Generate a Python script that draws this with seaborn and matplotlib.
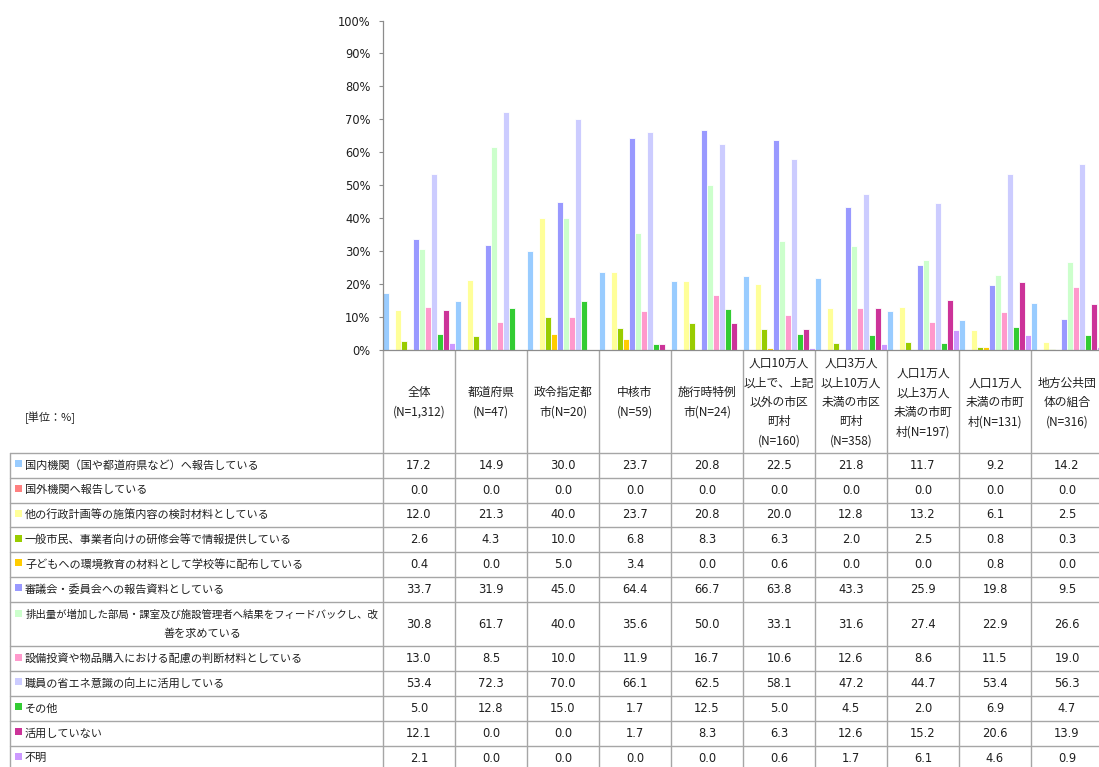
import numpy as np
import pandas as pd
import matplotlib
matplotlib.use("Agg")
import matplotlib.pyplot as plt
import seaborn as sns
from matplotlib.patches import Rectangle

# ---------------- data ----------------
groups = ["全体", "都道府県", "政令指定都市", "中核市", "施行時特例市",
          "人口10万人以上で、上記以外の市区町村", "人口3万人以上10万人未満の市区町村",
          "人口1万人以上3万人未満の市町村", "人口1万人未満の市町村", "地方公共団体の組合"]
group_headers = [
    ["全体", "(N=1,312)"],
    ["都道府県", "(N=47)"],
    ["政令指定都", "市(N=20)"],
    ["中核市", "(N=59)"],
    ["施行時特例", "市(N=24)"],
    ["人口10万人", "以上で、上記", "以外の市区", "町村", "(N=160)"],
    ["人口3万人", "以上10万人", "未満の市区", "町村", "(N=358)"],
    ["人口1万人", "以上3万人", "未満の市町", "村(N=197)"],
    ["人口1万人", "未満の市町", "村(N=131)"],
    ["地方公共団", "体の組合", "(N=316)"],
]

items = [
    "国内機関（国や都道府県など）へ報告している",
    "国外機関へ報告している",
    "他の行政計画等の施策内容の検討材料としている",
    "一般市民、事業者向けの研修会等で情報提供している",
    "子どもへの環境教育の材料として学校等に配布している",
    "審議会・委員会への報告資料としている",
    "排出量が増加した部局・課室及び施設管理者へ結果をフィードバックし、改善を求めている",
    "設備投資や物品購入における配慮の判断材料としている",
    "職員の省エネ意識の向上に活用している",
    "その他",
    "活用していない",
    "不明",
]
item_label_lines = [
    [items[0]], [items[1]], [items[2]], [items[3]], [items[4]], [items[5]],
    ["排出量が増加した部局・課室及び施設管理者へ結果をフィードバックし、改", "善を求めている"],
    [items[7]], [items[8]], [items[9]], [items[10]], [items[11]],
]

v_domestic = [17.2, 14.9, 30.0, 23.7, 20.8, 22.5, 21.8, 11.7, 9.2, 14.2]
v_overseas = [0.0, 0.0, 0.0, 0.0, 0.0, 0.0, 0.0, 0.0, 0.0, 0.0]
v_plan = [12.0, 21.3, 40.0, 23.7, 20.8, 20.0, 12.8, 13.2, 6.1, 2.5]
v_public = [2.6, 4.3, 10.0, 6.8, 8.3, 6.3, 2.0, 2.5, 0.8, 0.3]
v_school = [0.4, 0.0, 5.0, 3.4, 0.0, 0.6, 0.0, 0.0, 0.8, 0.0]
v_council = [33.7, 31.9, 45.0, 64.4, 66.7, 63.8, 43.3, 25.9, 19.8, 9.5]
v_feedback = [30.8, 61.7, 40.0, 35.6, 50.0, 33.1, 31.6, 27.4, 22.9, 26.6]
v_invest = [13.0, 8.5, 10.0, 11.9, 16.7, 10.6, 12.6, 8.6, 11.5, 19.0]
v_staff = [53.4, 72.3, 70.0, 66.1, 62.5, 58.1, 47.2, 44.7, 53.4, 56.3]
v_other = [5.0, 12.8, 15.0, 1.7, 12.5, 5.0, 4.5, 2.0, 6.9, 4.7]
v_notused = [12.1, 0.0, 0.0, 1.7, 8.3, 6.3, 12.6, 15.2, 20.6, 13.9]
v_unknown = [2.1, 0.0, 0.0, 0.0, 0.0, 0.6, 1.7, 6.1, 4.6, 0.9]

series = [v_domestic, v_overseas, v_plan, v_public, v_school, v_council,
          v_feedback, v_invest, v_staff, v_other, v_notused, v_unknown]

colors = ["#99CCFF", "#FF8080", "#FFFF99", "#99CC00", "#FFCC00", "#9999FF",
          "#CCFFCC", "#FF99CC", "#CCCCFF", "#33CC33", "#CC3399", "#CC99FF"]

yticks = list(range(0, 101, 10))
ytick_labels = [f"{t}%" for t in yticks]

# ---------------- style ----------------
sns.set_style("white")
plt.rcParams["font.family"] = ["Noto Sans CJK JP", "DejaVu Sans"]

TEXT = "#1E1E1E"
LINE = "#A6A6A6"
SPINE = "#8C8C8C"

W, H = 1099, 767
fig = plt.figure(figsize=(W / 100, H / 100), dpi=100)

# plot area in pixel coords
px_left, px_right, px_top, px_bottom = 383, 1103, 20.5, 350
ax = fig.add_axes([px_left / W, 1 - px_bottom / H, (px_right - px_left) / W,
                   (px_bottom - px_top) / H])

rows = []
for it, vals in zip(items, series):
    for g, v in zip(groups, vals):
        rows.append({"group": g, "item": it, "value": v})
df = pd.DataFrame(rows)

sns.barplot(data=df, x="group", y="value", hue="item", order=groups,
            hue_order=items, palette=colors, width=1.0, saturation=1,
            edgecolor="white", linewidth=0.6, legend=False, ax=ax)

ax.set_xlim(-0.5, len(groups) - 0.5)
ax.set_ylim(0, 100)
ax.set_xticks([])
ax.set_xlabel("")
ax.set_ylabel("")
ax.set_yticks(yticks)
ax.set_yticklabels(ytick_labels, family="DejaVu Sans", fontsize=8.3, color=TEXT)
ax.tick_params(axis="y", left=True, length=2.9, width=0.8, color=SPINE, pad=6)
for s in ["top", "right"]:
    ax.spines[s].set_visible(False)
for s in ["left", "bottom"]:
    ax.spines[s].set_color(SPINE)
    ax.spines[s].set_linewidth(0.9)
ax.set_facecolor("none")

# ---------------- table overlay ----------------
tab = fig.add_axes([0, 0, 1, 1], zorder=-1)
tab.set_xlim(0, W)
tab.set_ylim(H, 0)
tab.axis("off")

fig.canvas.draw()
ng = len(groups)
bounds = [ax.transData.transform((k - 0.5, 0))[0] for k in range(ng + 1)]
centers = [ax.transData.transform((k, 0))[0] for k in range(ng)]

table_left = 10
header_top = px_bottom
header_bottom = 453
row_h = 24.8
row_heights = [row_h * (1.8 if len(l) > 1 else 1) for l in item_label_lines]
row_tops = [header_bottom]
for h in row_heights:
    row_tops.append(row_tops[-1] + h)

# vertical lines
for b in bounds:
    tab.plot([b, b], [header_top, H + 5], color=LINE, lw=1.0)
tab.plot([table_left, table_left], [header_bottom, H + 5], color=LINE, lw=1.0)
# horizontal lines
for y in row_tops:
    tab.plot([table_left, bounds[-1]], [y, y], color=LINE, lw=1.0)

# unit label
tab.text(25, 418, "[単位：%]", fontsize=8, color=TEXT, ha="left", va="center")

# header texts
hc = (header_top + header_bottom) / 2 + 1
for cx, lines in zip(centers, group_headers):
    n = len(lines)
    for i, ln in enumerate(lines):
        y = hc + (i - (n - 1) / 2) * 19.5
        tab.text(cx, y, ln, fontsize=8.5, color=TEXT, ha="center", va="center")

# row labels and values
for r, (lines, vals, col) in enumerate(zip(item_label_lines, series, colors)):
    top, bot = row_tops[r], row_tops[r + 1]
    mid = (top + bot) / 2
    if len(lines) == 1:
        tab.add_patch(Rectangle((15, mid - 5.3), 7, 7, facecolor=col, edgecolor="none"))
        tab.text(25, mid, lines[0], fontsize=8, color=TEXT, ha="left", va="center")
    else:
        y1, y2 = mid - 9.2, mid + 9.2
        tab.add_patch(Rectangle((15, y1 - 5.3), 7, 7, facecolor=col, edgecolor="none"))
        cxl = 202
        tab.text(cxl, y1, lines[0], fontsize=7.5, color=TEXT, ha="center", va="center")
        tab.text(cxl, y2, lines[1], fontsize=8, color=TEXT, ha="center", va="center")
    for cx, v in zip(centers, vals):
        tab.text(cx, mid, f"{v:.1f}", family="DejaVu Sans", fontsize=8.3,
                 color=TEXT, ha="center", va="center")

fig.savefig("out.png", dpi=100)
